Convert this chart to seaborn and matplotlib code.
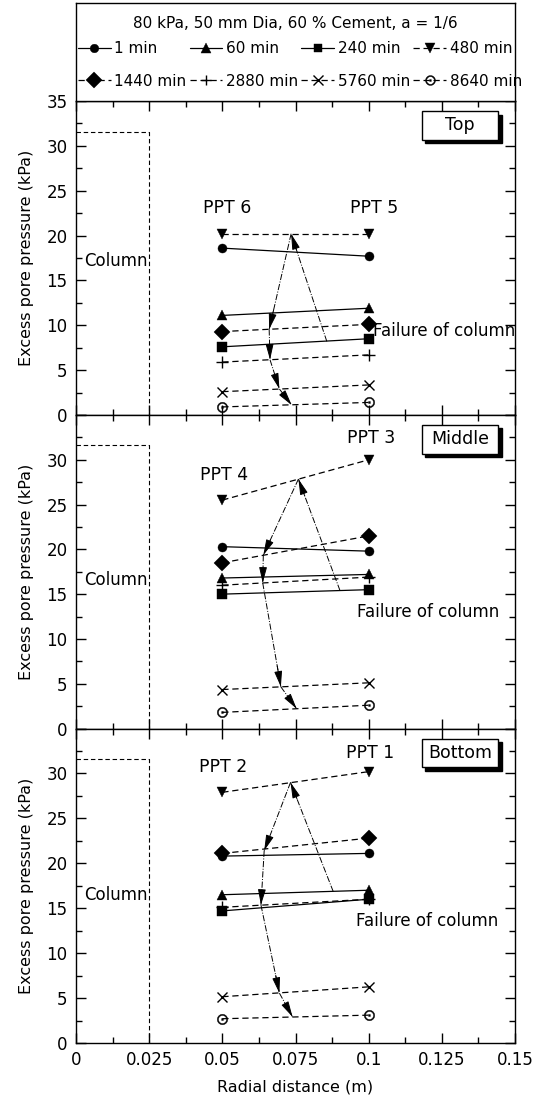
import numpy as np
import pandas as pd
import matplotlib
matplotlib.use("Agg")
import matplotlib.pyplot as plt
import seaborn as sns
from matplotlib.patches import Rectangle
from matplotlib.lines import Line2D
from matplotlib.ticker import MultipleLocator, FixedLocator, FixedFormatter

sns.set_theme(style="white")
plt.rcParams["font.family"] = ["DejaVu Sans"]
plt.rcParams["axes.edgecolor"] = "black"
plt.rcParams["axes.linewidth"] = 1.0
plt.rcParams["text.color"] = "black"
plt.rcParams["axes.labelcolor"] = "black"
plt.rcParams["xtick.color"] = "black"
plt.rcParams["ytick.color"] = "black"
plt.rcParams["legend.labelcolor"] = "black"

# ---------------- data ----------------
radial_positions = [0.05, 0.1]
times = ["1 min", "60 min", "240 min", "480 min",
         "1440 min", "2880 min", "5760 min", "8640 min"]

# excess pore pressure (kPa) at r = 0.05 m (inner PPT) and r = 0.1 m (outer PPT)
top_inner = [18.6, 11.1, 7.6, 20.2, 9.3, 5.9, 2.6, 0.9]      # PPT 6
top_outer = [17.7, 11.9, 8.5, 20.2, 10.1, 6.7, 3.35, 1.4]    # PPT 5
mid_inner = [20.3, 16.8, 15.0, 25.5, 18.5, 16.0, 4.35, 1.8]  # PPT 4
mid_outer = [19.8, 17.2, 15.5, 30.0, 21.5, 16.9, 5.1, 2.6]   # PPT 3
bot_inner = [20.8, 16.5, 14.7, 27.9, 21.1, 15.1, 5.15, 2.7]  # PPT 2
bot_outer = [21.1, 17.0, 16.0, 30.2, 22.8, 16.0, 6.25, 3.1]  # PPT 1

panel_names = ["Top", "Middle", "Bottom"]
ppt_labels = [("PPT 6", "PPT 5"), ("PPT 4", "PPT 3"), ("PPT 2", "PPT 1")]

column_radius = 0.025
column_height = 31.6

# arrow paths (x in m, y in kPa): chain of arrows from the 480 min peak downwards
chain_top = [(0.0735, 20.2), (0.066, 9.55), (0.0663, 6.15), (0.0695, 2.9), (0.0737, 1.1)]
chain_mid = [(0.076, 27.85), (0.064, 19.35), (0.0638, 16.25), (0.070, 4.65), (0.0754, 2.2)]
chain_bot = [(0.0733, 29.0), (0.0643, 21.4), (0.0632, 15.35), (0.0695, 5.55), (0.074, 2.9)]
failure_start = [(0.0857, 8.2), (0.0902, 15.4), (0.0879, 16.85)]

# ---------------- styles ----------------
markers = ["o", "^", "s", "v", "D", "+", "x", r"$\odot$"]
msizes = [6.5, 7.5, 6.5, 7.5, 8.5, 8, 7, 7.5]
dash = (0, (5, 3))
linestyles = ["-", "-", "-", dash, dash, dash, dash, dash]

fig = plt.figure(figsize=(5.35, 11.12), dpi=100)
W, H = 535.0, 1112.0
left = 76 / W
width = 439 / W
panel_px = [(101, 415), (415, 728.5), (728.5, 1043)]

axes = []
for (ytop, ybot) in panel_px:
    ax = fig.add_axes([left, 1 - ybot / H, width, (ybot - ytop) / H])
    axes.append(ax)

inners = [top_inner, mid_inner, bot_inner]
outers = [top_outer, mid_outer, bot_outer]
chains = [chain_top, chain_mid, chain_bot]
ppt_text_pos = [((0.0515, 23.1), (0.1018, 23.1)),
                ((0.0506, 28.3), (0.101, 32.4)),
                ((0.0503, 30.7), (0.1004, 32.3))]
failure_text_pos = [(0.1015, 9.4), (0.0961, 13.0), (0.0957, 13.6)]
column_text_y = [17.2, 16.6, 16.5]

arrow_style = "-|>,head_length=0.8,head_width=0.2"

for p, ax in enumerate(axes):
    inner, outer = inners[p], outers[p]
    for i, t in enumerate(times):
        df = pd.DataFrame({"r": radial_positions, "u": [inner[i], outer[i]]})
        sns.lineplot(data=df, x="r", y="u", ax=ax, color="black",
                     marker=markers[i], markersize=msizes[i],
                     linestyle=linestyles[i], linewidth=0.9,
                     markeredgecolor="black", markerfacecolor="black",
                     markeredgewidth=1.0 if markers[i] in ("+", "x") else 0.3,
                     legend=False, zorder=3)

    # column outline
    ax.plot([0, column_radius, column_radius], [column_height, column_height, 0],
            color="black", linestyle=(0, (4, 2.5)), linewidth=0.8)
    ax.text(0.0135, column_text_y[p], "Column", fontsize=12, ha="center", va="center")

    # arrows
    ch = chains[p]
    for (x0, y0), (x1, y1) in zip(ch[:-1], ch[1:]):
        ax.plot([x0, x1], [y0, y1], color="black", linestyle="-.", linewidth=0.7)
        ax.annotate("", xy=(x1, y1), xytext=(x0 + 0.8 * (x1 - x0), y0 + 0.8 * (y1 - y0)),
                    arrowprops=dict(arrowstyle=arrow_style, color="black", lw=0.7,
                                    mutation_scale=12, shrinkA=0, shrinkB=0))
    fx, fy = failure_start[p]
    ax.plot([fx, ch[0][0]], [fy, ch[0][1]], color="black", linestyle="-.", linewidth=0.7)
    ax.annotate("", xy=ch[0], xytext=(fx + 0.85 * (ch[0][0] - fx), fy + 0.85 * (ch[0][1] - fy)),
                arrowprops=dict(arrowstyle=arrow_style, color="black", lw=0.7,
                                mutation_scale=12, shrinkA=0, shrinkB=0))

    tx, ty = failure_text_pos[p]
    ax.text(tx, ty, "Failure of column", fontsize=12, ha="left", va="center", clip_on=False)
    (ax1, ay1), (ax2, ay2) = ppt_text_pos[p]
    ax.text(ax1, ay1, ppt_labels[p][0], fontsize=12.5, ha="center", va="center")
    ax.text(ax2, ay2, ppt_labels[p][1], fontsize=12.5, ha="center", va="center")

    # panel name box with shadow
    bx, by, bw, bh = 0.7875, 0.876, 0.1745, 0.092
    ax.add_patch(Rectangle((bx + 0.008, by - 0.011), bw, bh, transform=ax.transAxes,
                           facecolor="black", edgecolor="black", zorder=6))
    ax.add_patch(Rectangle((bx, by), bw, bh, transform=ax.transAxes,
                           facecolor="white", edgecolor="black", linewidth=1.0, zorder=7))
    ax.text(bx + bw / 2, by + bh / 2, panel_names[p], transform=ax.transAxes,
            fontsize=12.5, ha="center", va="center", zorder=8)

    ax.set_xlim(0, 0.15)
    ax.set_ylim(0, 35)
    ax.xaxis.set_major_locator(FixedLocator([0, 0.025, 0.05, 0.075, 0.1, 0.125, 0.15]))
    ax.xaxis.set_minor_locator(MultipleLocator(0.0125))
    ax.yaxis.set_major_locator(FixedLocator([0, 5, 10, 15, 20, 25, 30, 35]))
    ax.yaxis.set_minor_locator(MultipleLocator(2.5))
    ylabs = ["0", "5", "10", "15", "20", "25", "30", "35" if p == 0 else ""]
    ax.yaxis.set_major_formatter(FixedFormatter(ylabs))
    ax.xaxis.set_major_formatter(FixedFormatter(["0", "0.025", "0.05", "0.075", "0.1", "0.125", "0.15"]))
    ax.tick_params(which="both", direction="in", top=True, right=True,
                   bottom=True, left=True, color="black", width=1.0)
    ax.tick_params(which="major", length=7, labelsize=12, pad=6, labelcolor="black")
    ax.tick_params(which="minor", length=4)
    if p < 2:
        ax.tick_params(labelbottom=False)
        ax.set_xlabel("")
    else:
        ax.set_xlabel("Radial distance (m)", fontsize=11.5, labelpad=7)
    ax.set_ylabel("Excess pore pressure (kPa)", fontsize=11.5, labelpad=9)
    for s in ax.spines.values():
        s.set_color("black")
        s.set_linewidth(1.0)

# ---------------- legend box ----------------
lax = fig.add_axes([left, 1 - 101 / H, width, 98 / H])
lax.set_xticks([])
lax.set_yticks([])
for s in lax.spines.values():
    s.set_color("black")
    s.set_linewidth(1.0)
lax.text(0.5, 0.79, "80 kPa, 50 mm Dia, 60 % Cement, a = 1/6", fontsize=11,
         ha="center", va="center", transform=lax.transAxes)

handles = [Line2D([], [], color="black", marker=markers[i], markersize=msizes[i] * 0.95,
                  linestyle=linestyles[i], linewidth=0.9, markeredgecolor="black",
                  markerfacecolor="black",
                  markeredgewidth=1.0 if markers[i] in ("+", "x") else 0.3)
           for i in range(len(times))]
# legend fills column by column: reorder so the first four are the first row
order = [0, 4, 1, 5, 2, 6, 3, 7]
lax.legend([handles[k] for k in order], [times[k] for k in order], ncol=4,
           loc="center left", bbox_to_anchor=(0.004, 0.37), frameon=False,
           borderaxespad=0, borderpad=0, handlelength=2.15, handletextpad=0.25,
           columnspacing=0.2, labelspacing=1.15, fontsize=11)

fig.savefig("out.png", dpi=100)
